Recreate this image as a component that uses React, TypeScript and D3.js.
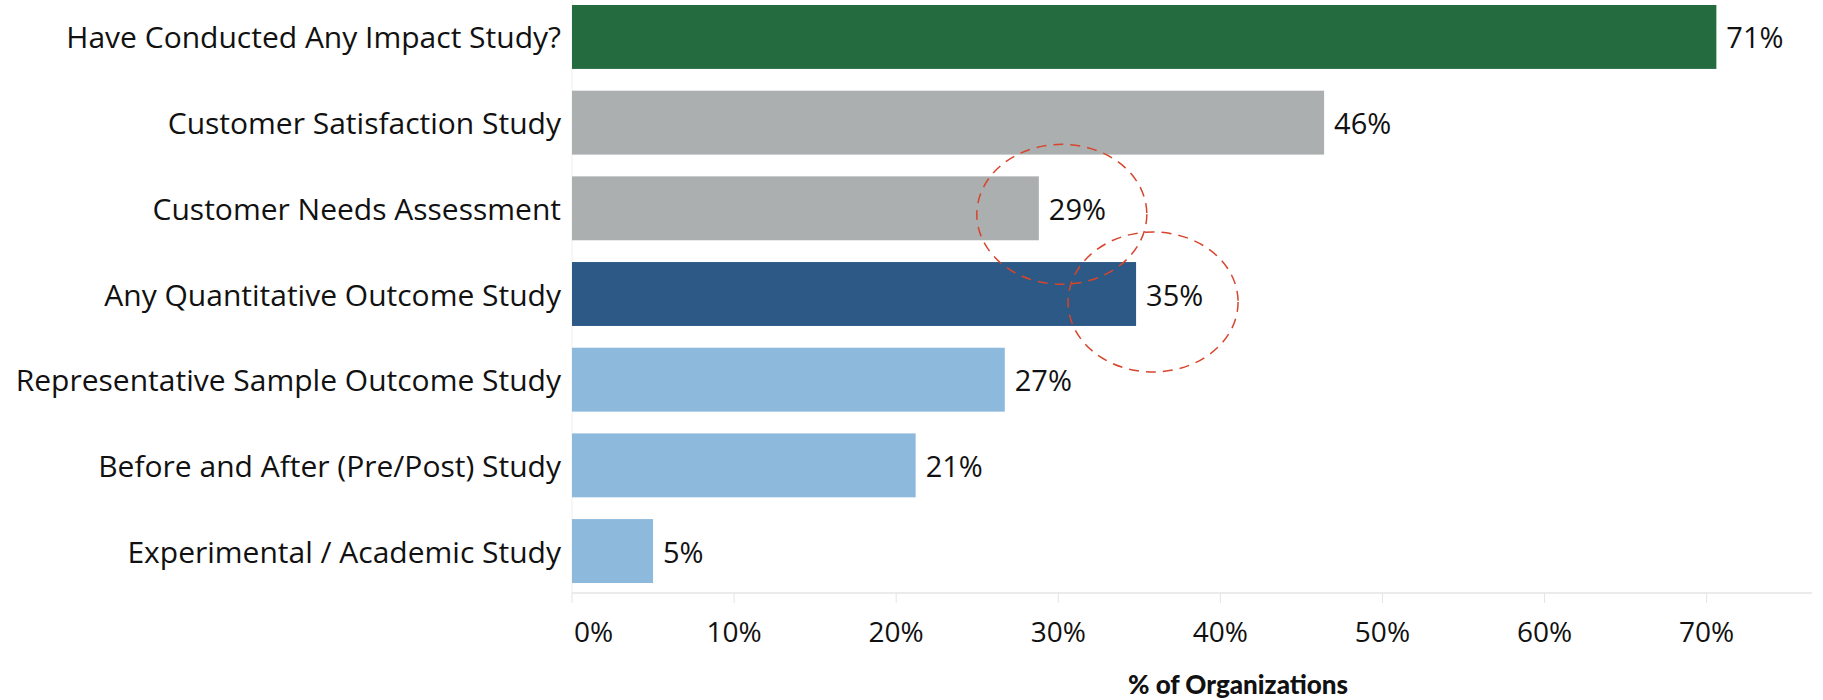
import * as d3 from "d3";

const categories = [
  "Have Conducted Any Impact Study?",
  "Customer Satisfaction Study",
  "Customer Needs Assessment",
  "Any Quantitative Outcome Study",
  "Representative Sample Outcome Study",
  "Before and After (Pre/Post) Study",
  "Experimental / Academic Study",
];
const values = [70.6, 46.4, 28.8, 34.8, 26.7, 21.2, 5.0];
const barColors = ["#256b40", "#abafb0", "#abafb0", "#2c5985", "#8cb9dc", "#8cb9dc", "#8cb9dc"];
const xTicks = [0, 10, 20, 30, 40, 50, 60, 70];
const highlighted = [2, 3];

export default function App() {
  const width = 1823;
  const height = 700;
  const left = 572;
  const right = 1812;
  const axisY = 593;

  const x = d3.scaleLinear().domain([0, 76.5]).range([left, right]);
  const y = d3.scaleBand<string>().domain(categories).range([5, 583]).paddingInner(0.254).paddingOuter(0);
  const fmt = (v: number) => `${Math.round(v)}%`;

  return (
    <svg width={width} height={height} style={{ position: "absolute", left: 0, top: 0, background: "#fff" }}>
      <line x1={left} x2={left} y1={0} y2={axisY} stroke="#eeeeee" />
      <line x1={left} x2={right} y1={axisY} y2={axisY} stroke="#e4e4e4" strokeWidth={1.5} />
      {xTicks.map((t) => (
        <g key={t}>
          <line x1={x(t)} x2={x(t)} y1={axisY} y2={axisY + 10} stroke="#e4e4e4" />
          <text
            x={t === 0 ? x(t) + 2 : x(t)}
            y={631}
            textAnchor={t === 0 ? "start" : "middle"}
            dominantBaseline="central"
            fontFamily="Open Sans"
            fontSize={28}
            fill="#111"
          >
            {t}%
          </text>
        </g>
      ))}
      <text x={1238} y={684} textAnchor="middle" dominantBaseline="central" fontFamily="Lato" fontWeight="900" fontSize={26} fill="#111">
        % of Organizations
      </text>
      {categories.map((c, i) => (
        <g key={c}>
          <rect x={x(0)} y={y(c)} width={x(values[i]) - x(0)} height={y.bandwidth()} fill={barColors[i]} />
          <text
            x={561}
            y={(y(c) ?? 0) + y.bandwidth() / 2}
            textAnchor="end"
            dominantBaseline="central"
            fontFamily="Open Sans"
            fontSize={30}
            fill="#111"
          >
            {c}
          </text>
          <text
            x={x(values[i]) + 10}
            y={(y(c) ?? 0) + y.bandwidth() / 2}
            dominantBaseline="central"
            fontFamily="Open Sans"
            fontSize={29}
            fill="#111"
          >
            {fmt(values[i])}
          </text>
        </g>
      ))}
      {highlighted.map((i, k) => (
        <ellipse
          key={i}
          cx={x(values[i]) + (k === 0 ? 23 : 17)}
          cy={(y(categories[i]) ?? 0) + y.bandwidth() / 2 + (k === 0 ? 6 : 8)}
          rx={85}
          ry={70}
          fill="none"
          stroke="#d6452c"
          strokeWidth={1.5}
          strokeDasharray="10 7"
        />
      ))}
    </svg>
  );
}
